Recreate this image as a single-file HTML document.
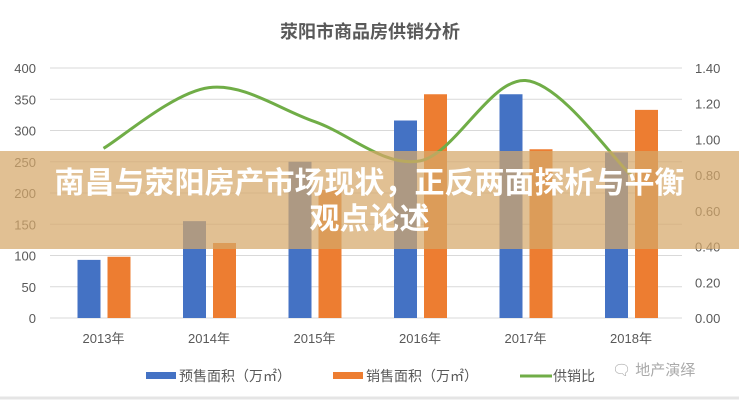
<!DOCTYPE html>
<html><head><meta charset="utf-8"><style>
body{margin:0;width:739px;height:400px;overflow:hidden;background:#fff;font-family:"Liberation Sans","Noto Sans CJK SC",sans-serif;}
svg{position:absolute;left:0;top:0}
.band{position:absolute;left:0;top:151px;width:739px;height:98px;background:rgba(213,168,105,0.72);}
.btxt{position:absolute;left:0;top:166px;width:739px;text-align:center;color:#fff;font-weight:bold;font-size:30px;line-height:36px;font-family:"Liberation Sans","Noto Sans CJK SC",sans-serif;}
</style></head><body>
<svg id="chart" width="739" height="400"></svg>
<div class="band"></div>
<div class="btxt">南昌与荥阳房产市场现状，正反两面探析与平衡<br>观点论述</div>
<script>
const categories=["2013年","2014年","2015年","2016年","2017年","2018年"];
const presale=[93,155,250,316,358,265];
const sales=[98,120,205,358,270,333];
const ratio=[0.95,1.29,1.10,0.88,1.33,0.80];
const leftTicks=[0,50,100,150,200,250,300,350,400];
const rightTicks=["0.00","0.20","0.40","0.60","0.80","1.00","1.20","1.40"];
const NS="http://www.w3.org/2000/svg";
const svg=document.getElementById('chart');
function mk(t,a,p){const e=document.createElementNS(NS,t);for(const k in a)e.setAttribute(k,a[k]);(p||svg).appendChild(e);return e;}
const y0=318,yTop=68;
const yL=v=>y0-(v/400)*(y0-yTop);
const yR=v=>y0-(v/1.4)*(y0-yTop);
const xC=i=>103.5+i*105.5;
let t=mk('text',{x:370,y:38,'text-anchor':'middle','font-size':18,'font-weight':'bold',fill:'#595959'});
t.textContent='荥阳市商品房供销分析';
leftTicks.forEach(v=>{
 const g=mk('line',{x1:50,x2:682,y1:yL(v),y2:yL(v),stroke:'#d9d9d9','stroke-width':1});
 
 const l=mk('text',{x:36,y:yL(v)+5,'text-anchor':'end','font-size':13,fill:'#595959'});
 l.textContent=v;
});
rightTicks.forEach(s=>{
 const l=mk('text',{x:695,y:yR(parseFloat(s))+5,'font-size':13,fill:'#595959'});
 l.textContent=s;
});
categories.forEach((c,i)=>{
 const b=mk('rect',{x:xC(i)-26,y:yL(presale[i]),width:23,height:y0-yL(presale[i]),fill:'#4472C4'});
 
 const o=mk('rect',{x:xC(i)+4,y:yL(sales[i]),width:23,height:y0-yL(sales[i]),fill:'#ED7D31'});
 
 const l=mk('text',{x:xC(i),y:343,'text-anchor':'middle','font-size':13,fill:'#595959'});
 l.textContent=c;
});
const pts=ratio.map((v,i)=>[xC(i),yR(v)]);
let d='M'+pts[0][0]+','+pts[0][1];
for(let i=0;i<pts.length-1;i++){
 const p0=pts[Math.max(0,i-1)],p1=pts[i],p2=pts[i+1],p3=pts[Math.min(pts.length-1,i+2)];
 const c1=[p1[0]+(p2[0]-p0[0])/6,p1[1]+(p2[1]-p0[1])/6],c2=[p2[0]-(p3[0]-p1[0])/6,p2[1]-(p3[1]-p1[1])/6];
 d+=' C'+c1+' '+c2+' '+p2;
}
const ln=mk('path',{d:d,fill:'none',stroke:'#70AD47','stroke-width':3});

const leg=[['#4472C4','预售面积（万㎡）',146,'rect'],['#ED7D31','销售面积（万㎡）',333,'rect'],['#70AD47','供销比',520,'line']];
leg.forEach(L=>{
 const g=mk('g',{});
 if(L[3]=='rect')mk('rect',{x:L[2],y:372,width:30,height:7,fill:L[0]},g);
 else mk('line',{x1:L[2],x2:L[2]+32,y1:376,y2:376,stroke:L[0],'stroke-width':3},g);
 const tx=mk('text',{x:L[2]+33,y:381,'font-size':14,fill:'#595959'},g);tx.textContent=L[1];
});
const wm=mk('text',{x:612,y:375,'font-size':15,fill:'#aaa'});
wm.textContent='🗨 地产演绎';
const bl=mk('line',{x1:0,x2:739,y1:398,y2:398,stroke:'#e5e5e5','stroke-width':3});

</script>
</body></html>
